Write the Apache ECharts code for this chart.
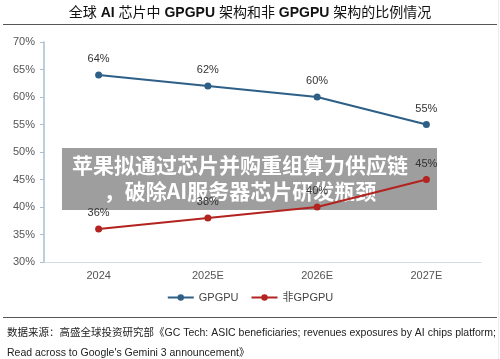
<!DOCTYPE html>
<html>
<head>
<meta charset="utf-8">
<script src="https://cdn.jsdelivr.net/npm/echarts@6/dist/echarts.min.js"></script>
<style>
  html, body { margin: 0; padding: 0; background: #fff; }
  #chart { width: 500px; height: 359px; }
</style>
</head>
<body>
<div id="chart"></div>
<script>
var years = ['2024', '2025E', '2026E', '2027E'];
var gpgpu = [64, 62, 60, 55];
var nonGpgpu = [36, 38, 40, 45];
var yTicks = [30, 35, 40, 45, 50, 55, 60, 65, 70];

var font = 'Arial, "Liberation Sans", "Noto Sans CJK SC", sans-serif';
var chart = echarts.init(document.getElementById('chart'));

var option = {
  backgroundColor: '#fff',
  textStyle: { fontFamily: font },
  grid: { left: 44, right: 19, top: 42, bottom: 97 },
  xAxis: {
    type: 'category',
    data: years,
    boundaryGap: true,
    axisLine: { lineStyle: { color: '#d3dbe2' } },
    axisTick: { show: false },
    axisLabel: { color: '#555', fontSize: 11, margin: 8, fontFamily: font }
  },
  yAxis: {
    type: 'value',
    min: yTicks[0],
    max: yTicks[yTicks.length - 1],
    interval: 5,
    axisLine: { show: true, lineStyle: { color: '#a9bfce', width: 1.5 } },
    axisTick: { show: true, length: 4, lineStyle: { color: '#a9bfce' } },
    splitLine: { show: false },
    axisLabel: { color: '#555', fontSize: 11, margin: 9, formatter: '{value}%', fontFamily: font }
  },
  legend: {
    bottom: 51,
    left: 'center',
    itemWidth: 26,
    itemHeight: 8,
    itemGap: 12,
    textStyle: { color: '#444', fontSize: 11, fontFamily: font },
    data: ['GPGPU', '非GPGPU']
  },
  series: [
    {
      name: 'GPGPU',
      type: 'line',
      data: gpgpu,
      symbol: 'circle',
      symbolSize: 7,
      color: '#2d5f87',
      lineStyle: { width: 2.2 },
      label: { show: true, position: 'top', distance: 7, color: '#333', fontSize: 11, formatter: '{c}%' }
    },
    {
      name: '非GPGPU',
      type: 'line',
      data: nonGpgpu,
      symbol: 'circle',
      symbolSize: 7,
      color: '#b3231f',
      lineStyle: { width: 2.2 },
      label: { show: true, position: 'top', distance: 7, color: '#333', fontSize: 11, formatter: '{c}%' }
    }
  ],
  graphic: [
    {
      type: 'text', left: 'center', top: 6,
      style: {
        text: '全球 {b|AI} 芯片中 {b|GPGPU} 架构和非 {b|GPGPU} 架构的比例情况',
        fontSize: 14, fill: '#111', fontFamily: font,
        rich: { b: { fontWeight: 'bold', fontSize: 14, fontFamily: font } }
      }
    },
    { type: 'line', shape: { x1: 3, y1: 24.5, x2: 497, y2: 24.5 }, style: { stroke: '#555', lineWidth: 1 } },
    { type: 'line', shape: { x1: 3, y1: 317.5, x2: 497, y2: 317.5 }, style: { stroke: '#555', lineWidth: 1 } },
    { type: 'line', shape: { x1: 498.5, y1: 0, x2: 498.5, y2: 359 }, style: { stroke: '#ececec', lineWidth: 1 } },
    {
      type: 'text', left: 7, top: 323,
      style: {
        text: '数据来源：高盛全球投资研究部《GC Tech: ASIC beneficiaries; revenues exposures by AI chips platform;\nRead across to Google\'s Gemini 3 announcement》',
        fontSize: 10.5, lineHeight: 20, fill: '#222', fontFamily: font
      }
    },
    {
      type: 'group', z: 100,
      children: [
        { type: 'rect', shape: { x: 62, y: 148, width: 375, height: 62 }, style: { fill: 'rgba(0,0,0,0.38)' } },
        {
          type: 'text', x: 240, y: 165,
          style: {
            text: '苹果拟通过芯片并购重组算力供应链',
            fontSize: 21, fontWeight: 'bold', fill: '#fff',
            align: 'center', verticalAlign: 'middle', fontFamily: '"Noto Sans CJK SC", sans-serif'
          }
        },
        {
          type: 'text', x: 240, y: 191,
          style: {
            text: '，破除AI服务器芯片研发瓶颈',
            fontSize: 21, fontWeight: 'bold', fill: '#fff',
            align: 'center', verticalAlign: 'middle', fontFamily: '"Noto Sans CJK SC", sans-serif'
          }
        }
      ]
    }
  ]
};
chart.setOption(option);
</script>
</body>
</html>
